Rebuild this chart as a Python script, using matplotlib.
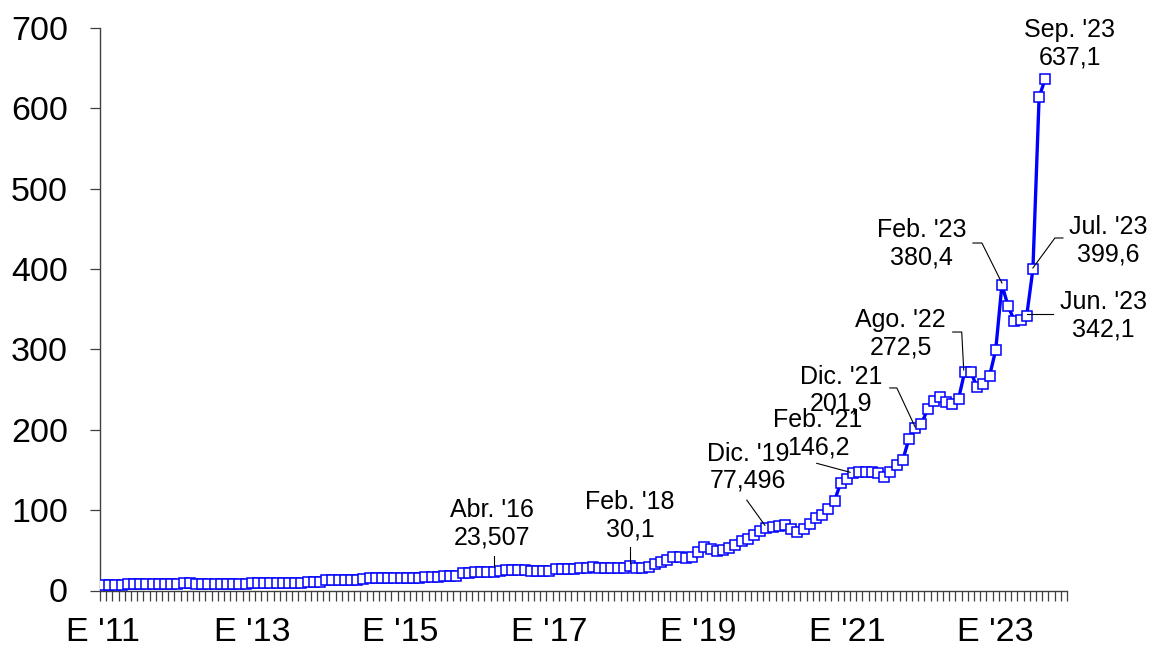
import matplotlib
matplotlib.use("Agg")
import matplotlib.pyplot as plt
from matplotlib.lines import Line2D
from matplotlib.transforms import IdentityTransform

plt.rcParams['font.family'] = ['Liberation Sans', 'DejaVu Sans']

# Monthly values, Jan 2011 .. Sep 2023
v2011 = [7.2, 7.3, 7.4, 7.4, 7.5, 7.6, 7.8, 7.9, 8.0, 8.0, 8.1, 8.1]
v2012 = [8.3, 8.8, 9.0, 8.6, 8.4, 8.3, 8.3, 8.4, 8.4, 8.5, 8.6, 8.7]
v2013 = [9.0, 9.3, 9.4, 9.3, 9.3, 9.4, 9.5, 9.6, 9.8, 10.4, 10.8, 11.2]
v2014 = [12.8, 13.0, 13.0, 13.1, 13.2, 13.3, 14.8, 15.5, 15.6, 15.6, 15.5, 15.6]
v2015 = [15.7, 15.8, 15.9, 16.0, 16.2, 16.8, 17.4, 17.8, 18.0, 18.3, 21.8, 22.4]
v2016 = [22.5, 22.8, 23.0, 23.507, 24.3, 25.3, 25.5, 25.6, 25.4, 24.5, 24.6, 24.7]
v2017 = [24.8, 26.5, 26.8, 26.9, 26.7, 27.5, 28.6, 29.0, 28.6, 28.5, 28.3, 28.4]
v2018 = [28.6, 30.1, 27.8, 27.6, 29.6, 32.6, 35.9, 38.0, 42.1, 41.3, 40.0, 41.3]
v2019 = [47.5, 53.7, 51.3, 49.5, 50.4, 53.3, 56.6, 62.0, 64.1, 69.1, 74.4, 77.496]
v2020 = [78.6, 80.5, 81.8, 76.1, 72.4, 76.5, 82.3, 89.8, 94.0, 101.0, 111.8, 134.2]
v2021 = [138.4, 146.2, 147.0, 147.0, 147.0, 146.6, 140.9, 147.2, 156.2, 162.4, 188.5, 201.9]
v2022 = [206.8, 225.5, 236.2, 241.2, 235.0, 231.7, 238.3, 272.5, 271.5, 252.9, 256.6, 266.9]
v2023 = [299.3, 380.4, 354.0, 335.7, 336.6, 342.1, 399.6, 614.0, 637.1]

values = v2011 + v2012 + v2013 + v2014 + v2015 + v2016 + v2017 + v2018 + v2019 + v2020 + v2021 + v2022 + v2023
n_categories = 156  # Jan '11 .. Dec '23

tick_labels = ["E '11", "E '13", "E '15", "E '17", "E '19", "E '21", "E '23"]
y_ticks = [0, 100, 200, 300, 400, 500, 600, 700]

# Annotated points: (index, text)
ann_index = [63, 85, 107, 121, 131, 139, 145, 149, 150, 152]
ann_text = ["Abr. '16\n23,507", "Feb. '18\n30,1", "Dic. '19\n77,496", "Feb. '21\n146,2",
            "Dic. '21\n201,9", "Ago. '22\n272,5", "Feb. '23\n380,4", "Jun. '23\n342,1",
            "Jul. '23\n399,6", "Sep. '23\n637,1"]

# layout: text offsets (pixels) and leader polylines (pixel offsets from the point)
ann_offset = [(-2, 48), (0, 51), (-18, 61), (-35, 39.5), (-74, 38), (-64, 38),
              (-80, 41), (77, 0), (75, 28.5), (24.5, 34.5)]
ann_leader = [
    [(0, 16), (0, 5)],
    [(0, 19), (0, 3)],
    [(-19.5, 28), (-1.5, 3)],
    [(-36.4, 9.7), (-3, 0.7)],
    [(-25.3, 40.3), (-18.3, 40.3), (0, 1.3)],
    [(-12, 39.5), (-3, 39.5), (-1, 1.5)],
    [(-29, 41.8), (-20, 41.8), (0, 1.8)],
    [(0, 1.6), (26, 1.6)],
    [(30, 31.4), (22, 31.4), (0, 1.4)],
    None,
]

W, H = 1150, 646
fig = plt.figure(figsize=(W / 100, H / 100), dpi=100)
ax = fig.add_axes([100 / W, 1 - 590.5 / H, (1067 - 100) / W, (590.5 - 28) / H])

x = list(range(len(values)))
ax.plot(x, values, color='#0000FF', lw=2.4, marker='s', ms=6.8,
        mfc='white', mec='#0000FF', mew=1.1, zorder=3)

ax.set_xlim(-0.5, n_categories - 0.5)
ax.set_ylim(0, 700)

for s in ['top', 'right']:
    ax.spines[s].set_visible(False)
for s in ['left', 'bottom']:
    ax.spines[s].set_color('#404040')
    ax.spines[s].set_linewidth(1.0)

ax.set_yticks(y_ticks)
ax.set_yticklabels([str(t) for t in y_ticks])
ax.tick_params(axis='y', direction='out', length=7.2, width=0.9, color='#404040',
               labelsize=24.5, pad=16)

ax.set_xticks([24 * k for k in range(len(tick_labels))])
ax.set_xticklabels(tick_labels)
ax.set_xticks([k - 0.5 for k in range(n_categories + 1)], minor=True)
ax.tick_params(axis='x', which='major', length=0, labelsize=24.5, pad=19)
ax.tick_params(axis='x', which='minor', direction='out', length=7.5, width=0.9, color='#404040')

for idx, txt, off in zip(ann_index, ann_text, ann_offset):
    ax.annotate(txt, xy=(idx, values[idx]), xytext=off, textcoords='offset pixels',
                ha='center', va='center', fontsize=18, linespacing=1.18, zorder=5)

fig.canvas.draw()
for idx, leader in zip(ann_index, ann_leader):
    if leader is None:
        continue
    px, py = ax.transData.transform((idx, values[idx]))
    xs = [px + dx for dx, dy in leader]
    ys = [py + dy for dx, dy in leader]
    fig.add_artist(Line2D(xs, ys, transform=IdentityTransform(), color='black', lw=0.8, zorder=6))

fig.savefig("out.png", dpi=100)
